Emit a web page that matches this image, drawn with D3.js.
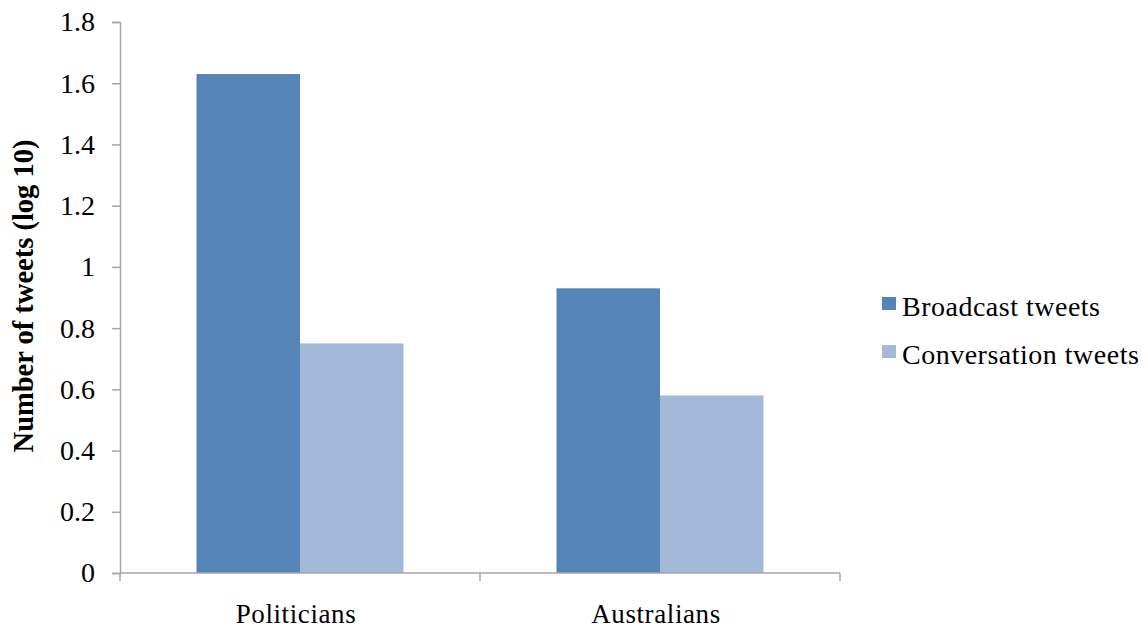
<!DOCTYPE html>
<html>
<head>
<meta charset="utf-8">
<script src="https://cdn.jsdelivr.net/npm/d3@7"></script>
<style>
  body { margin: 0; background: #fff; }
  svg text { font-family: "Liberation Serif", "DejaVu Serif", serif; fill: #000; }
</style>
</head>
<body>
<svg id="chart" width="1148" height="631"></svg>
<script>
// Mean tweet counts on a log10 scale, by account group
const categories = ["Politicians", "Australians"];
const seriesNames = ["Broadcast tweets", "Conversation tweets"];
const broadcast = [1.63, 0.93];
const conversation = [0.75, 0.58];
const yTicks = [0, 0.2, 0.4, 0.6, 0.8, 1, 1.2, 1.4, 1.6, 1.8];
const colors = ["#5585B7", "#A4B8D8"];

const svg = d3.select("#chart");
const margin = { left: 120, right: 308, top: 22, bottom: 58 };
const W = 1148, H = 631;
const plotW = W - margin.left - margin.right;
const plotH = H - margin.top - margin.bottom;

const x = d3.scaleBand().domain(categories).range([0, plotW]).paddingInner(0).paddingOuter(0);
const inner = d3.scaleBand().domain(seriesNames).range([x.bandwidth() * 0.2125, x.bandwidth() * 0.7875]);
const y = d3.scaleLinear().domain([0, 1.8]).range([plotH, 0]);

const g = svg.append("g").attr("transform", `translate(${margin.left},${margin.top})`);

const rows = categories.map((c, i) => ({ cat: c, vals: [broadcast[i], conversation[i]] }));

// Bars
const grp = g.selectAll("g.cat").data(rows).join("g")
  .attr("class", "cat")
  .attr("transform", d => `translate(${x(d.cat)},0)`);
grp.selectAll("rect").data(d => d.vals.map((v, k) => ({ k, v }))).join("rect")
  .attr("x", d => inner(seriesNames[d.k]))
  .attr("width", inner.bandwidth())
  .attr("y", d => y(d.v))
  .attr("height", d => plotH - y(d.v))
  .attr("fill", d => colors[d.k]);

// Y axis
const yAxis = g.append("g")
  .call(d3.axisLeft(y).tickValues(yTicks).tickSize(8).tickPadding(17)
    .tickFormat(d => d3.format("~g")(d)));
yAxis.attr("font-family", null).attr("font-size", null);
yAxis.select(".domain").attr("stroke", "#a6a6a6").attr("stroke-width", 1.5);
yAxis.selectAll(".tick line").attr("stroke", "#a6a6a6").attr("stroke-width", 1.5);
yAxis.selectAll(".tick text").attr("font-size", 28).attr("fill", "#000");

// X axis with ticks at band boundaries
const xAxisG = g.append("g").attr("transform", `translate(0,${plotH})`);
xAxisG.append("line").attr("x1", 0).attr("x2", plotW).attr("y1", 0).attr("y2", 0)
  .attr("stroke", "#a6a6a6").attr("stroke-width", 1.5);
const boundaries = [0, ...categories.map(c => x(c) + x.bandwidth())];
xAxisG.selectAll("line.tk").data(boundaries).join("line")
  .attr("class", "tk")
  .attr("x1", d => d).attr("x2", d => d).attr("y1", 0).attr("y2", 8)
  .attr("stroke", "#a6a6a6").attr("stroke-width", 1.5);
xAxisG.selectAll("text").data(categories).join("text")
  .attr("x", d => x(d) + x.bandwidth() / 2)
  .attr("dx", -4)
  .attr("y", 50)
  .attr("text-anchor", "middle")
  .attr("font-size", 27)
  .attr("letter-spacing", 0.6)
  .text(d => d);

// Y axis title
svg.append("text")
  .attr("transform", "translate(33,296) rotate(-90)")
  .attr("text-anchor", "middle")
  .attr("font-size", 28.5)
  .attr("font-weight", "bold")
  .text("Number of tweets (log 10)");

// Legend
const legend = svg.append("g").attr("transform", "translate(882,297)");
seriesNames.forEach((name, i) => {
  const row = legend.append("g").attr("transform", `translate(0,${i * 48})`);
  row.append("rect").attr("width", 14).attr("height", 13).attr("fill", colors[i]);
  row.append("text").attr("x", 20).attr("y", 19).attr("font-size", 28)
    .attr("letter-spacing", 0.5).text(name);
});
</script>
</body>
</html>
